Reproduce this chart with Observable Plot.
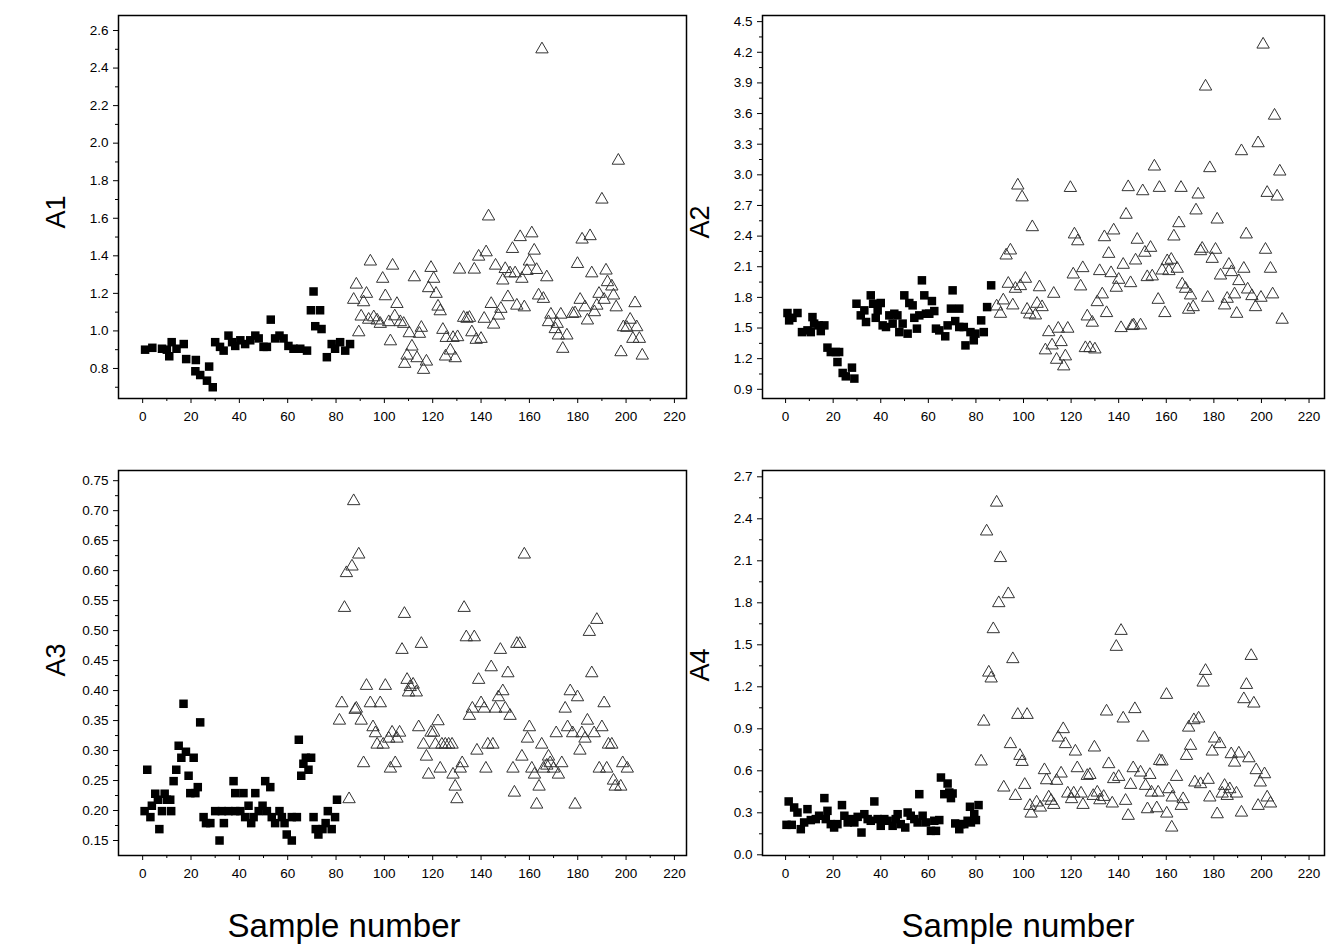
<!DOCTYPE html>
<html><head><meta charset="utf-8">
<script src="https://cdn.jsdelivr.net/npm/d3@7"></script>
<script src="https://cdn.jsdelivr.net/npm/@observablehq/plot@0.6"></script>
<style>
html,body{margin:0;padding:0;background:#fff;}
#wrap{position:relative;width:1332px;height:951px;overflow:hidden;font-family:"Liberation Sans",Arial,sans-serif;}
.p{position:absolute;}
.yl{position:absolute;font-size:27px;transform:translate(-50%,-50%) rotate(-90deg);white-space:nowrap;color:#000;}
.xl{position:absolute;font-size:33px;transform:translate(-50%,-50%);white-space:nowrap;color:#000;}
</style></head>
<body><div id="wrap"></div>
<script>
// x ticks (sample number)
const xTicks = [0,20,40,60,80,100,120,140,160,180,200,220];
const xMinor = [10,30,50,70,90,110,130,150,170,190,210];

// y ticks
const a1Ticks = [0.8,1.0,1.2,1.4,1.6,1.8,2.0,2.2,2.4,2.6];
const a1Minor = [0.7,0.9,1.1,1.3,1.5,1.7,1.9,2.1,2.3,2.5];
const a2Ticks = [0.9,1.2,1.5,1.8,2.1,2.4,2.7,3.0,3.3,3.6,3.9,4.2,4.5];
const a2Minor = [1.05,1.35,1.65,1.95,2.25,2.55,2.85,3.15,3.45,3.75,4.05,4.35];
const a3Ticks = [0.15,0.20,0.25,0.30,0.35,0.40,0.45,0.50,0.55,0.60,0.65,0.70,0.75];
const a3Minor = [0.175,0.225,0.275,0.325,0.375,0.425,0.475,0.525,0.575,0.625,0.675,0.725];
const a4Ticks = [0.0,0.3,0.6,0.9,1.2,1.5,1.8,2.1,2.4,2.7];
const a4Minor = [0.15,0.45,0.75,1.05,1.35,1.65,1.95,2.25,2.55];

// A1: [sample, value]
const a1Sq = [[1,0.90],[4,0.91],[8,0.905],[10,0.90],[11,0.865],[12,0.94],[14,0.905],[17,0.93],[18,0.85],[22,0.845],[21.8,0.785],[23.8,0.765],[27.5,0.81],[26.6,0.735],[29,0.70],[30,0.94],[32,0.915],[33.5,0.895],[35.5,0.975],[37,0.94],[38.3,0.92],[40.4,0.95],[42.4,0.93],[44.5,0.95],[46.6,0.975],[48,0.96],[50,0.915],[51.4,0.915],[53,1.06],[54.8,0.96],[56.6,0.975],[58.3,0.96],[60.3,0.92],[62.4,0.905],[65.2,0.905],[68,0.895],[70.7,1.21],[69.6,1.11],[73.4,1.11],[71.4,1.025],[74,1.01],[76.2,0.86],[78.2,0.93],[79.6,0.905],[81.7,0.94],[83.8,0.895],[85.8,0.93]];
const a1Tri = [[89.4,0.993],[87.3,1.166],[88.4,1.247],[91.4,1.153],[92.6,1.198],[90.4,1.077],[94.2,1.37],[93.5,1.06],[95.6,1.073],[97,1.056],[98.3,1.038],[99.3,1.278],[100.4,1.185],[101.8,1.047],[102.5,0.945],[103.4,1.348],[104.3,1.078],[105.2,1.144],[106.6,1.047],[108,1.038],[108.4,0.825],[109.4,0.869],[110.3,0.988],[111.4,0.917],[112.4,1.286],[113.5,0.855],[114.5,0.985],[115.3,1.017],[116.2,0.793],[117.4,0.837],[118.3,1.228],[119.3,1.336],[120.4,1.278],[121.4,1.198],[122.2,1.13],[123.1,1.105],[124.2,1.006],[125.6,0.963],[125.3,0.864],[127.3,0.896],[128.4,0.963],[129.3,0.855],[130.3,0.967],[131.1,1.327],[132.8,1.07],[134.2,1.065],[135.2,1.07],[136.2,0.993],[137.2,1.327],[138,0.953],[140,0.958],[139,1.396],[141.3,1.065],[142.1,1.419],[143.1,1.61],[144.2,1.144],[145.2,1.034],[146,1.348],[147.2,1.082],[148.2,1.118],[149,1.269],[150,1.33],[151.1,1.18],[153,1.437],[154.1,1.307],[154.8,1.135],[165.2,2.5],[196.8,1.907],[190,1.70],[156.2,1.50],[161,1.52],[162,1.428],[160,1.37],[152,1.307],[156.9,1.278],[159,1.32],[163,1.325],[167.2,1.286],[163.8,1.189],[165.8,1.171],[157.9,1.126],[168.9,1.087],[167.9,1.047],[171.5,1.038],[173,1.087],[170.7,1.01],[172,0.976],[175.5,0.976],[173.8,0.905],[177.9,1.091],[179.9,1.357],[178.9,1.094],[181,1.166],[181.8,1.487],[183,1.126],[184,1.056],[185.1,1.505],[185.8,1.307],[186.9,1.10],[187.9,1.135],[188.8,1.198],[190.9,1.166],[191.7,1.322],[192.3,1.26],[194.1,1.237],[194.8,1.189],[195.9,1.126],[203.7,1.148],[197.9,0.887],[198.9,1.02],[200.3,1.017],[201.7,1.06],[202.8,0.958],[204.4,1.02],[205.5,0.958],[206.7,0.869]];

// A2
const a2Sq = [[0.8,1.647],[2.9,1.60],[5,1.647],[1.5,1.575],[6.9,1.46],[9.2,1.477],[11.3,1.607],[12,1.543],[10.6,1.46],[13.9,1.526],[14.8,1.47],[16.3,1.526],[17.6,1.308],[19,1.265],[21.1,1.265],[22.5,1.265],[21.8,1.167],[24,1.06],[25.3,1.027],[27.9,1.112],[28.9,1.005],[29.8,1.738],[31.6,1.624],[33.1,1.673],[33.8,1.559],[35.8,1.82],[36.8,1.738],[38.7,1.673],[40,1.745],[37.9,1.60],[40.8,1.526],[42.2,1.51],[43.6,1.624],[45.7,1.64],[45,1.543],[47,1.624],[49.2,1.543],[47.8,1.46],[49.9,1.82],[51.3,1.445],[52,1.745],[53.4,1.722],[54.1,1.60],[55.2,1.494],[56.2,1.624],[57.3,1.967],[58.3,1.82],[59,1.64],[60.4,1.64],[61.5,1.764],[62.5,1.666],[63.2,1.494],[64.6,1.477],[67.1,1.419],[68.1,1.526],[70.2,1.869],[69.5,1.69],[71.3,1.568],[73,1.69],[73,1.51],[86.4,1.918],[84.7,1.705],[82.2,1.575],[74.9,1.51],[77.7,1.46],[79.8,1.445],[83.3,1.46],[79.1,1.38],[75.6,1.33]];
const a2Tri = [[97.6,2.896],[99.4,2.78],[103.7,2.488],[119.7,2.872],[144,2.88],[143.1,2.61],[92.7,2.211],[94.5,2.26],[93.6,1.934],[96.6,1.885],[98.7,1.911],[100.8,1.983],[91.5,1.771],[88.7,1.712],[90.3,1.64],[95.5,1.722],[101.5,1.68],[102.6,1.634],[105,1.624],[105.7,1.738],[107.8,1.705],[106.7,1.90],[112.7,1.836],[110.6,1.46],[109.2,1.282],[112,1.33],[114.6,1.494],[115.8,1.363],[113.9,1.19],[117.6,1.223],[116.9,1.125],[118.6,1.494],[121.4,2.417],[122.8,2.35],[120.9,2.025],[124.9,2.087],[124,1.908],[126.8,1.614],[128.9,1.553],[126,1.304],[127.9,1.304],[130,1.291],[131,1.754],[133.1,1.83],[134.9,1.647],[132,2.058],[134,2.39],[137.9,2.456],[135.8,2.227],[136.8,2.038],[140,1.973],[139,1.895],[141.9,2.12],[145,1.94],[147.1,2.162],[147.8,2.365],[141,1.50],[145.7,1.52],[200.7,4.276],[176.5,3.865],[205.5,3.58],[198.6,3.31],[191.6,3.232],[155,3.082],[178.3,3.066],[207.7,3.033],[150.1,2.84],[157.1,2.873],[166.2,2.873],[173.4,2.808],[202.4,2.824],[206.6,2.788],[172.5,2.652],[165.3,2.527],[181.4,2.563],[163.2,2.397],[193.6,2.417],[153.4,2.286],[151,2.238],[175.1,2.277],[174.4,2.253],[180.7,2.267],[179.3,2.178],[201.7,2.267],[160.4,2.155],[162.1,2.169],[158.3,2.064],[161.1,2.058],[164.6,2.081],[186.3,2.12],[187.4,2.048],[192.6,2.081],[203.8,2.081],[182.8,2.015],[190.5,1.96],[152,1.999],[154.1,2.006],[166.7,1.927],[168.1,1.885],[170.2,1.82],[177.4,1.797],[185.6,1.787],[188.7,1.83],[194.2,1.878],[196,1.813],[199.8,1.797],[204.7,1.83],[156.6,1.777],[184.5,1.722],[197.5,1.705],[159.4,1.647],[169.4,1.68],[171.3,1.705],[189.6,1.64],[208.7,1.582],[146.3,1.526],[149.2,1.526]];

// A3
const a3Sq = [[0.8,0.199],[1.9,0.268],[3.2,0.189],[3.8,0.208],[5.2,0.228],[6.3,0.218],[6.9,0.169],[8,0.199],[9.1,0.228],[10,0.218],[11.4,0.218],[11.8,0.199],[12.8,0.249],[13.9,0.268],[14.9,0.308],[16,0.288],[16.9,0.378],[17.9,0.298],[19,0.258],[19.7,0.229],[21.1,0.288],[21.8,0.229],[22.8,0.239],[23.8,0.347],[25.2,0.189],[26.2,0.179],[28,0.179],[30,0.199],[31.8,0.15],[33.6,0.179],[32.8,0.199],[35.5,0.199],[37.6,0.249],[38.3,0.229],[38.3,0.199],[40.4,0.199],[41.7,0.229],[42.4,0.189],[43.8,0.208],[44.9,0.179],[46.6,0.229],[45.9,0.189],[48,0.199],[49.6,0.208],[50.7,0.249],[52.8,0.239],[51.4,0.199],[53.4,0.189],[54.8,0.179],[56.6,0.199],[57.6,0.189],[58.7,0.179],[59.6,0.16],[61.7,0.15],[61.7,0.189],[63.8,0.189],[64.6,0.318],[65.6,0.258],[66.5,0.278],[67.5,0.288],[68.6,0.268],[69.7,0.288],[70.7,0.189],[71.6,0.169],[72.7,0.16],[74.4,0.169],[75.7,0.179],[76.6,0.199],[78.2,0.169],[79.6,0.189],[80.4,0.218]];
const a3Tri = [[82.4,0.379],[81.4,0.35],[87.9,0.368],[85.4,0.219],[87.3,0.716],[89.4,0.627],[86.6,0.607],[84.3,0.596],[83.5,0.538],[88.4,0.37],[90.4,0.35],[92.6,0.408],[94.2,0.379],[98.3,0.379],[100.4,0.408],[95.3,0.339],[96.3,0.329],[97,0.31],[99.5,0.31],[101.8,0.32],[103.2,0.33],[105.2,0.32],[106.3,0.33],[91.4,0.279],[102.5,0.27],[104.5,0.279],[107.3,0.468],[108.3,0.528],[115.3,0.478],[109.4,0.418],[110.7,0.406],[111.9,0.41],[110,0.397],[113.2,0.397],[114.2,0.339],[116.2,0.31],[117.4,0.29],[118.3,0.26],[119.3,0.33],[120.4,0.33],[122.2,0.349],[121.1,0.31],[123.1,0.27],[123.8,0.31],[125.2,0.31],[126.6,0.31],[128,0.31],[128.4,0.26],[129.3,0.24],[130,0.219],[131.4,0.27],[132.2,0.279],[133,0.538],[133.9,0.489],[137.2,0.489],[135.2,0.358],[136.4,0.37],[138.3,0.30],[139,0.418],[140,0.379],[141.3,0.37],[142,0.27],[142.8,0.31],[144.9,0.31],[144.2,0.439],[146,0.37],[147.2,0.389],[148,0.468],[149,0.399],[150,0.37],[151.1,0.429],[152,0.358],[153.2,0.27],[153.8,0.23],[154.8,0.478],[157.9,0.627],[187.9,0.518],[184.8,0.498],[156,0.478],[185.8,0.429],[176.9,0.399],[179.9,0.389],[190.9,0.379],[174.8,0.37],[160,0.339],[159.2,0.32],[165.1,0.31],[171.1,0.329],[175.8,0.339],[177.9,0.329],[181.7,0.329],[184,0.35],[183,0.32],[186.8,0.329],[190,0.339],[180.9,0.30],[192.7,0.31],[194.1,0.31],[156.9,0.29],[167.9,0.29],[168.6,0.279],[167.2,0.275],[170,0.27],[173.4,0.279],[165.8,0.27],[161,0.27],[162.1,0.26],[172,0.26],[164,0.24],[163,0.21],[178.9,0.21],[188.9,0.27],[192,0.27],[198.6,0.279],[200.5,0.27],[194.8,0.25],[195.5,0.24],[197.8,0.24]];

// A4
const a4Sq = [[1.3,0.381],[0.4,0.214],[2.6,0.214],[3.6,0.338],[5,0.302],[6.4,0.183],[7.8,0.231],[9.2,0.326],[10.6,0.248],[12.7,0.255],[14.1,0.279],[16.3,0.405],[17.6,0.314],[16.9,0.255],[19,0.219],[20.4,0.195],[21.8,0.219],[23.7,0.355],[24.7,0.279],[26.1,0.231],[27.4,0.255],[28.9,0.231],[30.3,0.271],[31.9,0.159],[33.1,0.29],[34.5,0.255],[37.3,0.381],[35.8,0.243],[38.7,0.255],[40,0.207],[41.5,0.255],[42.9,0.243],[45,0.207],[47.1,0.29],[46.3,0.255],[48.4,0.219],[50.3,0.195],[51.3,0.302],[52.6,0.279],[54.1,0.255],[56.2,0.433],[55.5,0.231],[57.6,0.279],[59,0.231],[61.1,0.171],[63.2,0.171],[62.5,0.243],[64.6,0.248],[65.3,0.552],[68.1,0.509],[66.7,0.433],[68.8,0.445],[70.2,0.438],[69.5,0.405],[71.3,0.224],[73,0.183],[73.7,0.219],[75.1,0.219],[76.5,0.243],[77.9,0.231],[79.3,0.29],[77.5,0.343],[81.1,0.355],[80,0.248]];
const a4Tri = [[88.7,2.516],[84.5,2.31],[90.3,2.12],[93.6,1.862],[89.6,1.798],[87.3,1.612],[95.5,1.398],[85.4,1.302],[86.4,1.26],[141,1.60],[139,1.486],[83.3,0.952],[97.6,1.0],[101.5,1.0],[134.9,1.024],[141.9,0.974],[146.8,1.041],[82.2,0.667],[94.5,0.791],[98.5,0.707],[99.4,0.664],[116.7,0.898],[114.6,0.838],[117.6,0.791],[121.8,0.738],[129.8,0.767],[135.8,0.648],[91.7,0.481],[96.6,0.421],[100.5,0.50],[108.8,0.605],[109.7,0.533],[113.9,0.529],[115.8,0.581],[122.6,0.619],[126.8,0.564],[127.9,0.571],[137.9,0.541],[140,0.557],[146.1,0.619],[145,0.50],[102.7,0.35],[103.2,0.295],[105.5,0.374],[107.1,0.338],[110.6,0.41],[111.6,0.386],[112.7,0.357],[118.6,0.438],[120.2,0.398],[121.1,0.438],[124.2,0.438],[125,0.357],[129.3,0.421],[131,0.445],[132.1,0.39],[133.7,0.414],[137.3,0.367],[142.9,0.386],[144,0.279],[195.7,1.421],[176.5,1.314],[175.5,1.231],[160.1,1.143],[193.7,1.214],[192.6,1.112],[196.8,1.081],[173.6,0.974],[171.6,0.962],[169.4,0.909],[150.2,0.838],[180.3,0.831],[182.5,0.791],[170.2,0.779],[179.3,0.738],[168.5,0.707],[187.3,0.719],[190.5,0.724],[188.7,0.659],[194.7,0.69],[157.2,0.671],[158.2,0.667],[197.8,0.605],[201.3,0.576],[199.5,0.517],[149.2,0.588],[153.1,0.571],[164.3,0.557],[172,0.517],[174.4,0.505],[177.6,0.536],[184.5,0.493],[186.7,0.469],[183.5,0.438],[185.6,0.421],[189.5,0.438],[151.3,0.493],[153.8,0.445],[156.6,0.445],[161.1,0.469],[162.5,0.41],[167.1,0.398],[166.3,0.35],[178.3,0.41],[152.1,0.326],[156,0.333],[160.2,0.295],[162.3,0.195],[181.4,0.29],[191.6,0.302],[198.6,0.35],[202.4,0.41],[203.8,0.367]];

function panel(o) {
  return Plot.plot({
    width: o.width, height: o.height,
    marginLeft: o.ml, marginRight: o.mr, marginTop: 15, marginBottom: o.height - 15 - o.ph,
    x: {domain: o.xd}, y: {domain: o.yd},
    style: {fontFamily: "'Liberation Sans', Arial, sans-serif", fontSize: "13.5px", color: "#000", background: "transparent", overflow: "visible"},
    marks: [
      Plot.axisX({ticks: xTicks, tickSize: 5, tickPadding: 8, label: null, tickFormat: d => String(d)}),
      Plot.axisX({ticks: xMinor, tickSize: 3, label: null, tickFormat: () => ""}),
      Plot.axisY({ticks: o.yt, tickSize: 5, tickPadding: 5, label: null, tickFormat: o.fmt}),
      Plot.axisY({ticks: o.ym, tickSize: 3, label: null, tickFormat: () => ""}),
      Plot.dot(o.tri, {x: d => d[0], y: d => d[1], symbol: "triangle", r: 4.6, stroke: "#333", strokeWidth: 1, fill: "none"}),
      Plot.dot(o.sq, {x: d => d[0], y: d => d[1], symbol: "square", r: 4.8, fill: "#000", stroke: "none"}),
      Plot.frame({stroke: "#000", strokeWidth: 1.5})
    ]
  });
}

const wrap = document.getElementById("wrap");
function place(el, left, top) { el.classList.add("p"); el.style.left = left + "px"; el.style.top = top + "px"; wrap.appendChild(el); }
const f1 = d3.format(".1f"), f2 = d3.format(".2f");

place(panel({width: 690, height: 440, ml: 118, mr: 4, ph: 383, xd: [-10, 225], yd: [0.64, 2.68], yt: a1Ticks, ym: a1Minor, fmt: f1, sq: a1Sq, tri: a1Tri}), 0, 0);
place(panel({width: 642, height: 440, ml: 72, mr: 8, ph: 383, xd: [-9.7, 226.5], yd: [0.81, 4.56], yt: a2Ticks, ym: a2Minor, fmt: f1, sq: a2Sq, tri: a2Tri}), 690, 0);
place(panel({width: 690, height: 442, ml: 118, mr: 4, ph: 385, xd: [-10, 225], yd: [0.125, 0.767], yt: a3Ticks, ym: a3Minor, fmt: f2, sq: a3Sq, tri: a3Tri}), 0, 455);
place(panel({width: 642, height: 442, ml: 72, mr: 8, ph: 385, xd: [-9.7, 226.5], yd: [-0.005, 2.745], yt: a4Ticks, ym: a4Minor, fmt: f1, sq: a4Sq, tri: a4Tri}), 690, 455);

function label(cls, text, x, y) { const d = document.createElement("div"); d.className = cls; d.textContent = text; d.style.left = x + "px"; d.style.top = y + "px"; wrap.appendChild(d); }
label("yl", "A1", 56, 212);
label("yl", "A2", 700, 222);
label("yl", "A3", 56, 660);
label("yl", "A4", 700, 665);
label("xl", "Sample number", 344, 926);
label("xl", "Sample number", 1018, 926);
</script></body></html>
